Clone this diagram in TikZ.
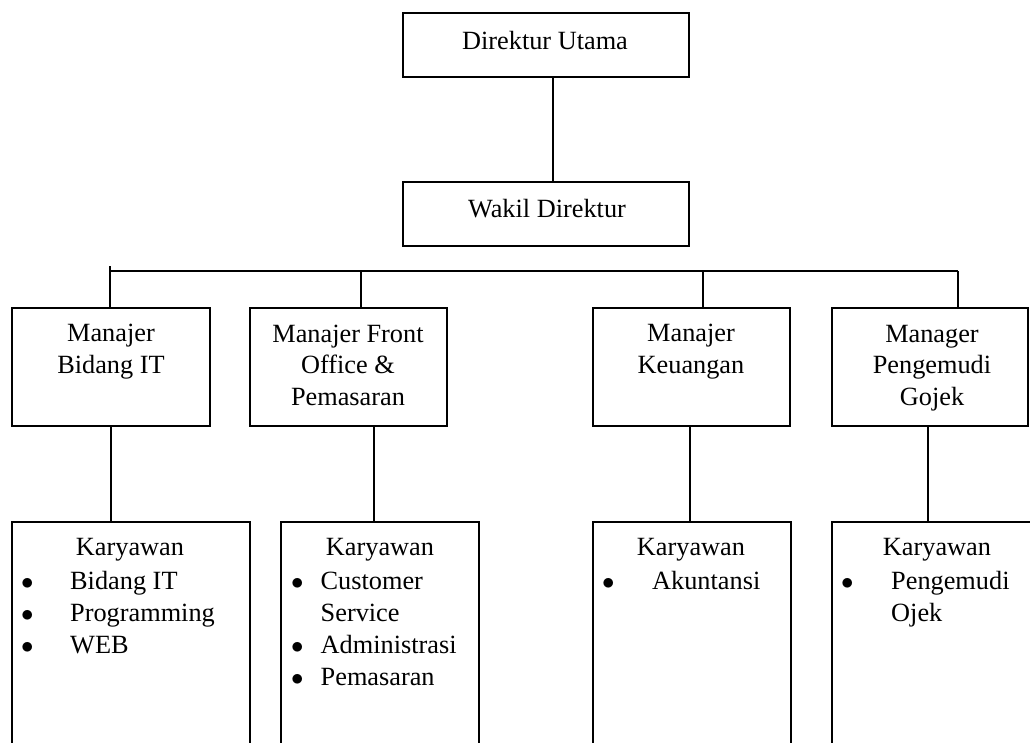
\documentclass[tikz,border=0pt]{standalone}
\usepackage{fontspec}
\setmainfont{Liberation Serif}
\usetikzlibrary{positioning}
\tikzset{
  kotak/.style={draw, line width=1.3pt, rectangle, inner sep=0pt},
  garis/.style={line width=1.3pt},
  teks/.style={inner sep=0pt, anchor=base, align=center, font=\fontsize{26.3}{31.5}\selectfont},
  daftar/.style={inner sep=0pt, anchor=base west, font=\fontsize{26.3}{32}\selectfont},
}
\newcommand{\butir}{$\bullet$}

\begin{document}
\begin{tikzpicture}[x=1pt,y=-1pt]
                    \useasboundingbox (0,0) rectangle (1030,742);
                    \clip (0,0) rectangle (1030,742);
%                    Direksi
                    \node[kotak, minimum width=286pt, minimum height=64pt] (dirut) at (546,45) {};
                    \node[kotak, minimum width=286pt, minimum height=64pt] (wadir) at (546,214) {};
                    \node[teks] (tdirut) at (545,49) {Direktur Utama};
                    \node[teks] (twadir) at (547,217) {Wakil Direktur};
                    \draw[garis] ([xshift=7pt]dirut.south) -- ([xshift=7pt]wadir.north);

%                    Manajer (base = last line)
                    \node[kotak, minimum width=198pt, minimum height=118pt] (mit) at (111,367) {};
                    \node[kotak, minimum width=197pt, minimum height=118pt] (mfo) at (348.5,367) {};
                    \node[kotak, minimum width=197pt, minimum height=118pt] (muang) at (691.5,367) {};
                    \node[kotak, minimum width=196pt, minimum height=118pt] (mojek) at (930,367) {};
                    \node[teks] (tmit) at (111,373) {Manajer\\Bidang IT};
                    \node[teks] (tmfo) at (348,405) {Manajer Front\\Office \&\\Pemasaran};
                    \node[teks] (tmuang) at (691,373) {Manajer\\Keuangan};
                    \node[teks] (tmojek) at (932,405) {Manager\\Pengemudi\\Gojek};

                    \coordinate (bus1) at (110,271);
                    \coordinate (bus2) at (361,271);
                    \coordinate (bus3) at (703,271);
                    \coordinate (bus4) at (958,271);
                    \draw[garis] (bus1) -- (bus4);
                    \draw[garis] ([yshift=5pt]bus1) -- (bus1 |- mit.north);
                    \foreach \b/\m in {bus2/mfo,bus3/muang,bus4/mojek} {
                        \draw[garis] (\b) -- (\b |- \m.north);
                    }

%                    Karyawan
                    \node[kotak, minimum width=238pt, minimum height=278pt] (kit) at (131,661) {};
                    \node[kotak, minimum width=198pt, minimum height=278pt] (kfo) at (380,661) {};
                    \node[kotak, minimum width=198pt, minimum height=278pt] (kuang) at (692,661) {};
                    \node[kotak, minimum width=208pt, minimum height=278pt] (kojek) at (936,661) {};
                    \draw[garis] (mit.south) -- (mit.south |- kit.north);
                    \draw[garis] ([xshift=25.5pt]mfo.south) -- ([xshift=25.5pt]mfo.south |- kfo.north);
                    \draw[garis] ([xshift=-1.5pt]muang.south) -- ([xshift=-1.5pt]muang.south |- kuang.north);
                    \draw[garis] ([xshift=-2pt]mojek.south) -- ([xshift=-2pt]mojek.south |- kojek.north);

                    \node[teks] (tkit) at (130,555) {Karyawan};
                    \node[teks] (tkfo) at (380,555) {Karyawan};
                    \node[teks] (tkuang) at (691,555) {Karyawan};
                    \node[teks] (tkojek) at (937,555) {Karyawan};
                    \node[daftar] (dit) at (21,589) {\begin{tabular}[t]{@{}p{49pt}@{}l@{}}
                        \butir & Bidang IT\\ \butir & Programming\\ \butir & WEB\end{tabular}};
                    \node[daftar] (dfo) at (291,589) {\begin{tabular}[t]{@{}p{29.5pt}@{}l@{}}
                        \butir & Customer\\ & Service\\ \butir & Administrasi\\ \butir & Pemasaran\end{tabular}};
                    \node[daftar] (duang) at (602,589) {\begin{tabular}[t]{@{}p{50pt}@{}l@{}}
                        \butir & Akuntansi\end{tabular}};
                    \node[daftar] (dojek) at (841,589) {\begin{tabular}[t]{@{}p{50pt}@{}l@{}}
                        \butir & Pengemudi\\ & Ojek\end{tabular}};

                \end{tikzpicture}
\end{document}
